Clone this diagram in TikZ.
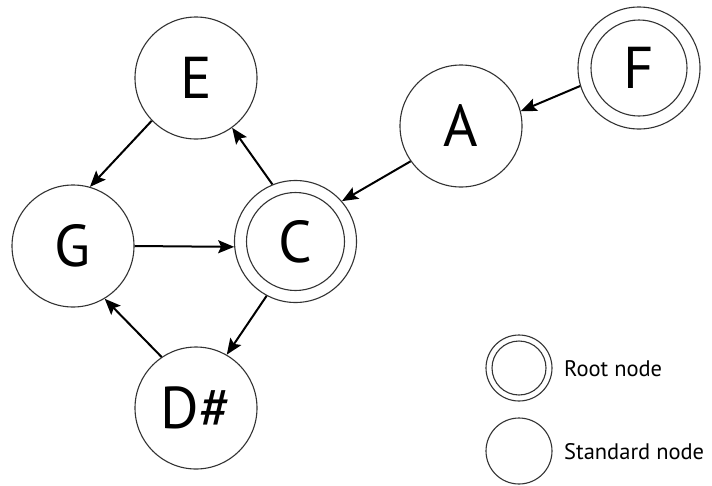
\documentclass[tikz,border=0pt]{standalone}
\usepackage{fontspec}
\setmainfont{PT Sans}
\usetikzlibrary{arrows.meta}
\begin{document}
\begin{tikzpicture}[x=1pt,y=-1pt,
  gnode/.style={circle,draw=black!80,line width=1.1pt,minimum size=122pt,inner sep=0pt,
    font=\fontsize{59}{61}\selectfont},
  lnode/.style={circle,draw=black!80,line width=1.1pt,minimum size=66pt,inner sep=0pt},
  edge/.style={line width=2pt,-{Stealth[length=16pt,width=13pt,inset=3pt]}},
  ltext/.style={anchor=base west,inner sep=0pt,font=\fontsize{22.5}{24}\selectfont}]
\useasboundingbox[fill=white] (0,0) rectangle (712,485);
\node[gnode] (E) at (196,78) {E};
\node[gnode] (G) at (73,246) {G};
\node[gnode] (C) at (295.5,241.5) {C};
\node[gnode] (D) at (196,408) {D\#};
\node[gnode] (A) at (461,126) {A};
\node[gnode] (F) at (639,68) {F};
\draw[black!80,line width=1.1pt] (C.center) circle[radius=49pt];
\draw[black!80,line width=1.1pt] (F.center) circle[radius=48pt];
\draw[edge] (E.224) -- (G.74);
\draw[edge] (C.112) -- (E.306);
\draw[edge] (G.0) -- (C.185);
\draw[edge] (C.242) -- (D.60);
\draw[edge] (D.124) -- (G.301);
\draw[edge] (A.215) -- (C.41);
\draw[edge] (F.197) -- (A.14);
\node[lnode] (R) at (519,368) {};
\draw[black!80,line width=1.1pt] (R.center) circle[radius=27pt];
\node[lnode] (S) at (519,451) {};
\node[ltext] (RT) at (564,376) {Root node};
\node[ltext] (ST) at (564,459) {Standard node};
\end{tikzpicture}
\end{document}
